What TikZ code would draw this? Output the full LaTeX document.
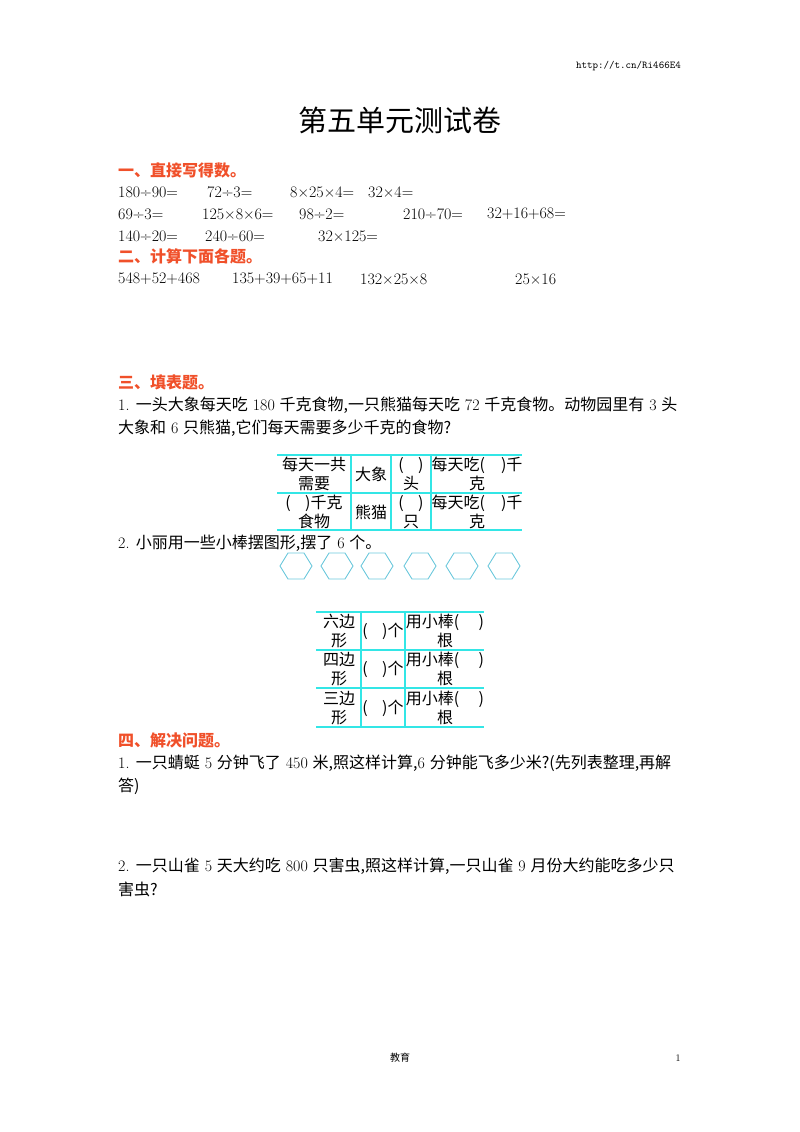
\documentclass[tikz,border=0pt]{standalone}
\usepackage{fontspec}
\newfontfamily\cjk{Noto Sans CJK SC}
\definecolor{hd}{HTML}{F0502A}
\definecolor{cy}{HTML}{33E6E6}
\definecolor{hx}{HTML}{6CC8DC}
\begin{document}
\begin{tikzpicture}[x=1pt,y=-1pt,
  t/.style={anchor=west,inner sep=0,font=\fontsize{16}{16}\selectfont},
  h/.style={anchor=west,inner sep=0,text=hd,font=\cjk\bfseries\fontsize{16}{16}\selectfont},
  c/.style={inner sep=0,align=center,font=\cjk\fontsize{16}{18.5}\selectfont},
  tl/.style={cy,line width=1.2pt},
  hexs/.style={hx,line width=0.9pt}]
\useasboundingbox (0,0) rectangle (800,1132);
\node[anchor=east,inner sep=0,font=\ttfamily\fontsize{10.5}{10}\selectfont] (url) at (681,66) {http://t.cn/Ri466E4};
\node[inner sep=0,font=\cjk\fontsize{29}{29}\selectfont] (title) at (400,120) {第五单元测试卷};
\node[h] (h1) at (118,170) {一、直接写得数。};
\node[t] (a1) at (118,192) {180÷90=};
\node[t] (a2) at (207,192) {72÷3=};
\node[t] (a3) at (290,192) {8×25×4=};
\node[t] (a4) at (368,192) {32×4=};
\node[t] (b1) at (118,214) {69÷3=};
\node[t] (b2) at (202,214) {125×8×6=};
\node[t] (b3) at (299,214) {98÷2=};
\node[t] (b4) at (403,214) {210÷70=};
\node[t] (b5) at (487,214) {32+16+68=};
\node[t] (c1) at (118,236) {140÷20=};
\node[t] (c2) at (205,236) {240÷60=};
\node[t] (c3) at (318,236) {32×125=};
\node[h] (h2) at (118,256) {二、计算下面各题。};
\node[t] (d1) at (118,279) {548+52+468};
\node[t] (d2) at (232,279) {135+39+65+11};
\node[t] (d3) at (360,279) {132×25×8};
\node[t] (d4) at (515,279) {25×16};
\node[h] (h3) at (118,382) {三、填表题。};
\node[t] (p1) at (118,405) {1. {\cjk 一头大象每天吃} 180 {\cjk 千克食物,一只熊猫每天吃} 72 {\cjk 千克食物。动物园里有} 3 {\cjk 头}};
\node[t] (p2) at (118,428) {{\cjk 大象和} 6 {\cjk 只熊猫,它们每天需要多少千克的食物?}};
% table 1
\draw[tl] (277,455) -- (522,455) (277,493) -- (522,493) (277,530) -- (522,530)
  (351,455) -- (351,530) (391,455) -- (391,530) (431,455) -- (431,530);
\node[c] (t11) at (314,474) {每天一共\\需要};
\node[c] (t12) at (371,474) {大象};
\node[c] (t13) at (411,474) {(\hspace{0.9em})\\头};
\node[c] (t14) at (477,474) {每天吃(\hspace{1em})千\\克};
\node[c] (t21) at (314,512) {(\hspace{0.9em})千克\\食物};
\node[c] (t22) at (371,512) {熊猫};
\node[c] (t23) at (411,512) {(\hspace{0.9em})\\只};
\node[c] (t24) at (477,512) {每天吃(\hspace{1em})千\\克};
\node[t] (p3) at (118,543) {2. {\cjk 小丽用一些小棒摆图形,摆了} 6 {\cjk 个。}};
\foreach \cx [count=\i] in {296,337,377,420,462,504}{
  \draw[hexs] (\cx-16,566) -- (\cx-8,553) -- (\cx+8,553) -- (\cx+16,566) -- (\cx+8,579) -- (\cx-8,579) -- cycle;}
% table 2
\draw[tl] (316,612) -- (484,612) (316,650) -- (484,650) (316,688) -- (484,688) (316,727) -- (484,727)
  (361,612) -- (361,727) (405,612) -- (405,727);
\foreach \y/\nm [count=\i] in {631/六边,669/四边,708/三边}{
  \node[c] (r\i a) at (339,\y) {\nm\\形};
  \node[c] (r\i b) at (383,\y) {(\hspace{0.9em})个};
  \node[c] (r\i c) at (445,\y) {用小棒(\hspace{1.2em})\\根};}
\node[h] (h4) at (118,740) {四、解决问题。};
\node[t] (q1) at (118,763) {1. {\cjk 一只蜻蜓} 5 {\cjk 分钟飞了} 450 {\cjk 米,照这样计算,}6 {\cjk 分钟能飞多少米?(先列表整理,再解}};
\node[t] (q2) at (118,786) {{\cjk 答)}};
\node[t] (q3) at (118,866) {2. {\cjk 一只山雀} 5 {\cjk 天大约吃} 800 {\cjk 只害虫,照这样计算,一只山雀} 9 {\cjk 月份大约能吃多少只}};
\node[t] (q4) at (118,889) {{\cjk 害虫?}};
\node[inner sep=0,font=\cjk\fontsize{10}{10}\selectfont] (ft) at (400,1058) {教育};
\node[inner sep=0,font=\fontsize{10}{10}\selectfont] (pg) at (678,1058) {1};
\end{tikzpicture}
\end{document}
